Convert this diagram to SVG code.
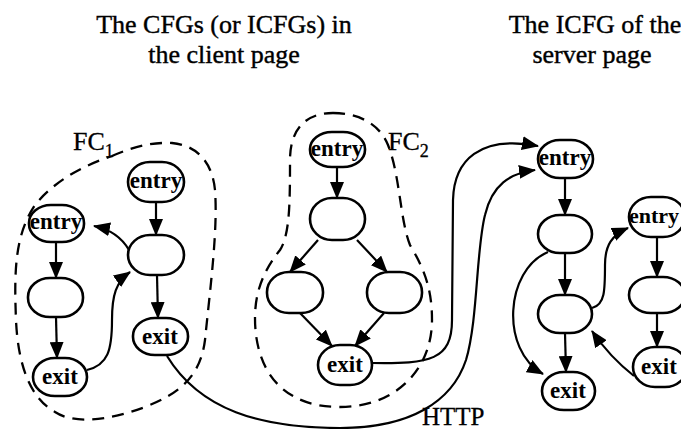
<svg xmlns="http://www.w3.org/2000/svg" width="681" height="429" viewBox="0 0 681 429">
<defs>
<style>
.title{font-family:"Liberation Serif","Times New Roman",serif;font-size:26px;fill:#000;stroke:#000;stroke-width:0.4;text-anchor:middle}
.lbl{font-family:"Liberation Serif","Times New Roman",serif;font-size:26px;fill:#000;stroke:#000;stroke-width:0.3}
.sub{font-size:18px}
.node rect{fill:#fff;stroke:#000;stroke-width:2.6}
.node text{font-family:"Liberation Serif","Times New Roman",serif;font-size:23px;font-weight:bold;fill:#000;text-anchor:middle}
.edge{fill:none;stroke:#000;stroke-width:2.2;marker-end:url(#ah)}
.bound{fill:none;stroke:#000;stroke-width:2.3;stroke-dasharray:12 8}
</style>
<marker id="ah" viewBox="0 0 17 14" refX="16" refY="7" markerWidth="17" markerHeight="14" markerUnits="userSpaceOnUse" orient="auto">
<path d="M0,0 L17,7 L0,14 z" fill="#000"/>
</marker>
</defs>
<rect width="681" height="429" fill="#fff"/>

<g id="titles">
<text class="title" x="224" y="33">The CFGs (or ICFGs) in</text>
<text class="title" x="224" y="63">the client page</text>
<text class="title" x="595" y="33">The ICFG of the</text>
<text class="title" x="592" y="63">server page</text>
</g>

<g id="boundaries">
<path id="fc1-boundary" class="bound" d="M112,156 C130,148 150,142 172,143 C195,145 212,160 215,190 C218,230 210,290 205,340 C200,380 175,395 145,407 C110,420 75,425 55,412 C30,398 18,365 16,320 C14,270 15,235 35,205 C55,180 85,165 112,156 Z"/>
<path id="fc2-boundary" class="bound" d="M333,113 C360,113 380,125 388,145 C400,175 400,220 410,245 C425,270 432,290 432,320 C432,370 395,407 340,407 C290,407 262,380 256,335 C252,300 260,275 280,250 C290,235 290,200 290,160 C290,130 305,113 333,113 Z"/>
<text class="lbl" x="73" y="150">FC<tspan class="sub" dy="7">1</tspan></text>
<text class="lbl" x="388" y="150">FC<tspan class="sub" dy="7">2</tspan></text>
</g>

<g id="connectors">
<path class="edge" d="M156,202 L156,235"/>
<path class="edge" d="M157,275 L158,318"/>
<path class="edge" d="M129,250 Q118,231 94,226"/>
<path class="edge" d="M87,370 C108,365 112,350 112,320 C112,295 116,282 130,272"/>
<path class="edge" d="M56,242 L56,278"/>
<path class="edge" d="M56,317 L57,358"/>
<path class="edge" d="M337,167 L337,198"/>
<path class="edge" d="M318,240 L290,272"/>
<path class="edge" d="M357,240 L387,272"/>
<path class="edge" d="M300,313 L332,346"/>
<path class="edge" d="M384,313 L355,346"/>
<path class="edge" d="M372,363 C430,364 452,360 452,320 L453,200 C454,160 480,135 538,146"/>
<path class="edge" d="M167,356 C200,410 260,428 340,428 C410,428 452,402 466,360 C478,320 476,250 485,215 C492,185 510,173 535,170"/>
<path class="edge" d="M565,178 L565,215"/>
<path class="edge" d="M565,253 L565,295"/>
<path class="edge" d="M565,333 L566,372"/>
<path class="edge" d="M548,252 C505,270 500,350 543,374"/>
<path class="edge" d="M592,308 C605,305 605,290 605,265 C605,245 612,235 628,228"/>
<path class="edge" d="M657,237 L657,277"/>
<path class="edge" d="M657,313 L657,347"/>
<path class="edge" d="M634,376 C620,365 605,350 592,331"/>
</g>

<g id="fc1-entry-a" class="node"><rect x="29" y="205" width="55" height="37" rx="22" ry="18"/><text x="56" y="229">entry</text></g>
<g id="fc1-node-a" class="node"><rect x="28" y="278" width="55" height="39" rx="22" ry="19"/></g>
<g id="fc1-exit-a" class="node"><rect x="33" y="358" width="54" height="38" rx="22" ry="19"/><text x="60" y="384">exit</text></g>
<g id="fc1-entry-b" class="node"><rect x="128" y="162" width="56" height="40" rx="22" ry="20"/><text x="156" y="188">entry</text></g>
<g id="fc1-node-b" class="node"><rect x="128" y="235" width="56" height="40" rx="22" ry="20"/></g>
<g id="fc1-exit-b" class="node"><rect x="133" y="318" width="55" height="37" rx="22" ry="18"/><text x="160" y="344">exit</text></g>

<g id="fc2-entry" class="node"><rect x="310" y="132" width="55" height="35" rx="22" ry="17"/><text x="337" y="156">entry</text></g>
<g id="fc2-node" class="node"><rect x="310" y="198" width="55" height="42" rx="22" ry="21"/></g>
<g id="fc2-node-left" class="node"><rect x="267" y="272" width="56" height="41" rx="22" ry="20"/></g>
<g id="fc2-node-right" class="node"><rect x="367" y="272" width="55" height="41" rx="22" ry="20"/></g>
<g id="fc2-exit" class="node"><rect x="318" y="345" width="54" height="40" rx="22" ry="20"/><text x="345" y="372">exit</text></g>

<g id="srv-entry" class="node"><rect x="538" y="140" width="55" height="38" rx="22" ry="19"/><text x="565" y="165">entry</text></g>
<g id="srv-node-1" class="node"><rect x="538" y="215" width="54" height="38" rx="22" ry="19"/></g>
<g id="srv-node-2" class="node"><rect x="538" y="295" width="54" height="38" rx="22" ry="19"/></g>
<g id="srv-exit" class="node"><rect x="542" y="372" width="53" height="38" rx="22" ry="19"/><text x="568" y="398">exit</text></g>
<g id="srv-entry-r" class="node"><rect x="629" y="197" width="56" height="40" rx="22" ry="20"/><text x="654" y="223" style="font-size:22px">entry</text></g>
<g id="srv-node-r" class="node"><rect x="629" y="277" width="56" height="36" rx="22" ry="18"/></g>
<g id="srv-exit-r" class="node"><rect x="633" y="347" width="54" height="40" rx="22" ry="20"/><text x="659" y="374">exit</text></g>

<text class="lbl" x="422" y="425" style="font-size:25px">HTTP</text>
</svg>
